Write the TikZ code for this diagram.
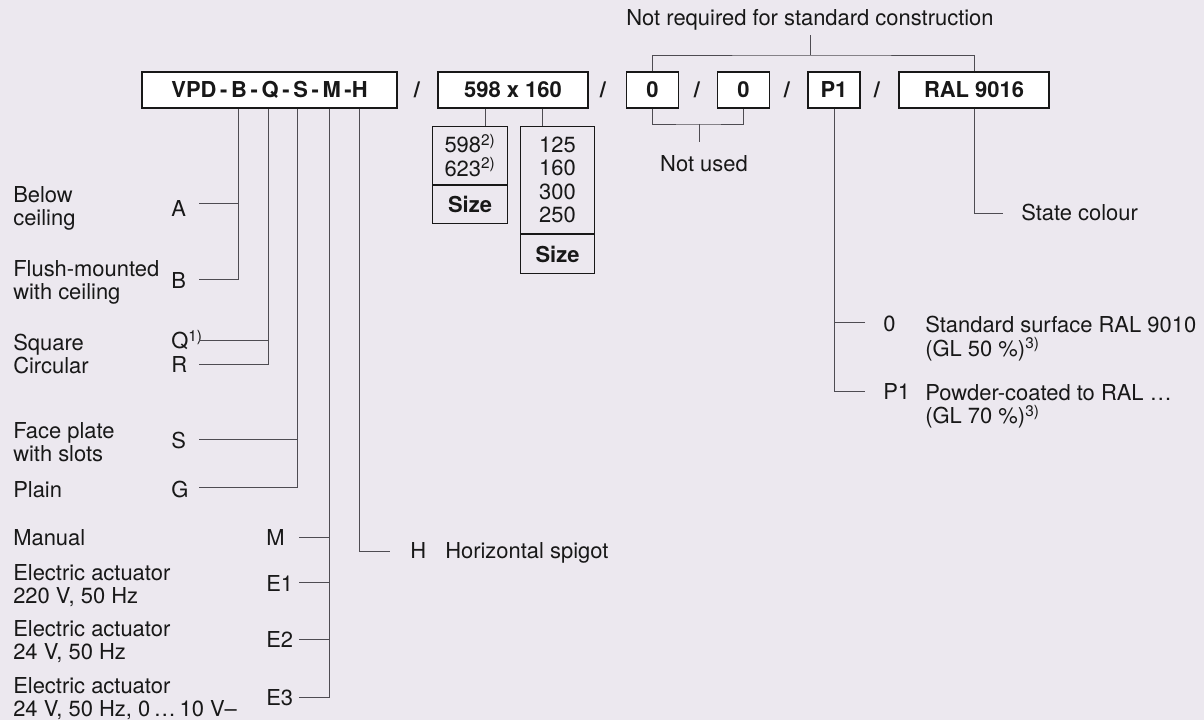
\documentclass[tikz,border=0pt]{standalone}
\usepackage{fontspec}
\setmainfont{TeX Gyre Heros}
\usepackage{tikz}
\usetikzlibrary{positioning}

\definecolor{paper}{RGB}{236,232,239}
\definecolor{ink}{RGB}{24,24,24}
\definecolor{wire}{RGB}{78,76,82}

\begin{document}
\begin{tikzpicture}[
    x=0.025cm, y=-0.025cm,
    every node/.style={text=ink, font=\fontsize{15.6pt}{16.7pt}\selectfont},
    codebox/.style={
        rectangle,
        draw=ink,
        fill=white,
        line width=0.8pt,
        minimum height=0.9cm,
        inner sep=0pt,
        font=\fontsize{15.6pt}{16.7pt}\selectfont\bfseries
    },
    cell/.style={
        rectangle,
        draw=ink,
        line width=0.7pt,
        inner sep=0pt,
        align=center
    },
    slash/.style={inner sep=0pt, font=\fontsize{15.6pt}{16.7pt}\selectfont\bfseries},
    desc/.style={inner sep=0pt, align=left},
    optkey/.style={inner sep=0pt, anchor=base west},
    link/.style={draw=wire, line width=0.7pt}
]

\path[use as bounding box, fill=paper] (0,0) rectangle (1204,720);

% type code
\node[codebox, minimum width=6.375cm] (code) at (269.5,90) {VPD\,-\,B\,-\,Q\,-\,S\,-\,M\,-H};
\node[slash] (s1) at (417,90) {/};
\node[codebox, minimum width=3.75cm] (size) at (513,90) {598 x 160};
\node[slash] (s2) at (603,90) {/};
\node[codebox, minimum width=1.3cm] (z1) at (652.5,90) {0};
\node[slash] (s3) at (697,90) {/};
\node[codebox, minimum width=1.3cm] (z2) at (743.5,90) {0};
\node[slash] (s4) at (787,90) {/};
\node[codebox, minimum width=1.3cm] (p1) at (834,90) {P1};
\node[slash] (s5) at (877,90) {/};
\node[codebox, minimum width=3.75cm] (ral) at (974,90) {RAL 9016};

% size tables
\node[cell, minimum width=1.875cm, minimum height=1.45cm, anchor=north] (t1v) at (470,126) {598\textsuperscript{2)}\\623\textsuperscript{2)}};
\node[cell, minimum width=1.875cm, minimum height=0.95cm, below=0pt of t1v, font=\fontsize{15.6pt}{16.7pt}\selectfont\bfseries] (t1s) {Size};
\node[cell, minimum width=1.85cm, minimum height=2.675cm, anchor=north] (t2v) at (557.5,126) {125\\160\\300\\250};
\node[cell, minimum width=1.85cm, minimum height=0.975cm, below=0pt of t2v, font=\fontsize{15.6pt}{16.7pt}\selectfont\bfseries] (t2s) {Size};

% left column
\node[desc, anchor=north west] (dA) at (13,186) {Below\\ceiling};
\node[desc, anchor=north west] (dB) at (13,260) {Flush-mounted\\with ceiling};
\node[desc, anchor=base west] (dQ) at (13,350.7) {Square};
\node[desc, anchor=base west] (dR) at (13,374) {Circular};
\node[desc, anchor=north west] (dS) at (13,422) {Face plate\\with slots};
\node[desc, anchor=base west] (dG) at (13,497.3) {Plain};
\node[desc, anchor=base west] (dM) at (13,546) {Manual};
\node[desc, anchor=north west] (dE1) at (13,564) {Electric actuator\\220 V, 50 Hz};
\node[desc, anchor=north west] (dE2) at (13,620) {Electric actuator\\24 V, 50 Hz};
\node[desc, anchor=north west] (dE3) at (13,677) {Electric actuator\\24 V, 50 Hz, 0\,…\,10 V–};

\node[optkey] (kA) at (171,217) {A};
\node[optkey] (kB) at (171,289) {B};
\node[optkey] (kQ) at (171,349) {Q\textsuperscript{1)}};
\node[optkey] (kR) at (171,373) {R};
\node[optkey] (kS) at (171,448.7) {S};
\node[optkey] (kG) at (171,497.3) {G};
\node[optkey] (kM) at (266,546) {M};
\node[optkey] (kE1) at (266,592) {E1};
\node[optkey] (kE2) at (266,648) {E2};
\node[optkey] (kE3) at (266,705) {E3};

\node[optkey] (kH) at (410,559) {H};
\node[desc, anchor=base west] (dH) at (445,559) {Horizontal spigot};

% right side
\node (nreq) at (810,20) {Not required for standard construction};
\node[desc, anchor=base] (notused) at (704,172) {Not used};
\node[desc, anchor=base west] (dRal) at (1021,221) {State colour};
\node[optkey] (k0) at (883,332) {0};
\node[optkey] (kP1) at (883,400) {P1};
\node[desc, anchor=north west] (d0) at (925,316) {Standard surface RAL 9010\\(GL 50 \%)\textsuperscript{3)}};
\node[desc, anchor=north west] (dP1) at (925,384) {Powder-coated to RAL …\\(GL 70 \%)\textsuperscript{3)}};

% trunks and branch points
\coordinate (tB) at (238,0);
\coordinate (tQ) at (268,0);
\coordinate (tS) at (297,0);
\coordinate (tM) at (329,0);
\coordinate (tH) at (359,0);
\coordinate (bA) at (199,203);
\coordinate (bB) at (199,279);
\coordinate (bQ) at (199,340);
\coordinate (bR) at (199,364);
\coordinate (bS) at (199,439);
\coordinate (bG) at (199,487);
\coordinate (bM) at (299,537);
\coordinate (bE1) at (299,582);
\coordinate (bE2) at (299,639);
\coordinate (bE3) at (299,697);
\coordinate (bH) at (390,551);
\coordinate (tz1) at (485,0);
\coordinate (tz2) at (542,0);
\coordinate (nrq) at (810,55);
\coordinate (nu) at (699,124);
\coordinate (bRal) at (1003,213);
\coordinate (bP0) at (865,322);
\coordinate (bP1) at (865,391);

\draw[link] (code.south -| tB) |- (bB);
\draw[link] (bA) -- (bA -| tB);
\draw[link] (code.south -| tQ) |- (bR);
\draw[link] (bQ) -- (bQ -| tQ);
\draw[link] (code.south -| tS) |- (bG);
\draw[link] (bS) -- (bS -| tS);
\draw[link] (code.south -| tM) |- (bE3);
\foreach \k in {M,E1,E2}
    \draw[link] (b\k) -- (b\k -| tM);
\draw[link] (code.south -| tH) |- (bH);

\draw[link] (size.south -| tz1) -- (t1v.north -| tz1);
\draw[link] (size.south -| tz2) -- (t2v.north -| tz2);

\draw[link] (z1.north) |- (nrq) -| (ral.north);
\draw[link] (nrq) -- (nrq |- nreq.south);
\draw[link] (z1.south) |- (nu) -| (z2.south);
\draw[link] (nu) -- ++(0,18);

\draw[link] (ral.south) |- (bRal);
\draw[link] (p1.south) |- (bP1);
\draw[link] (bP0) -- (bP0 -| p1.south);

\end{tikzpicture}
\end{document}
